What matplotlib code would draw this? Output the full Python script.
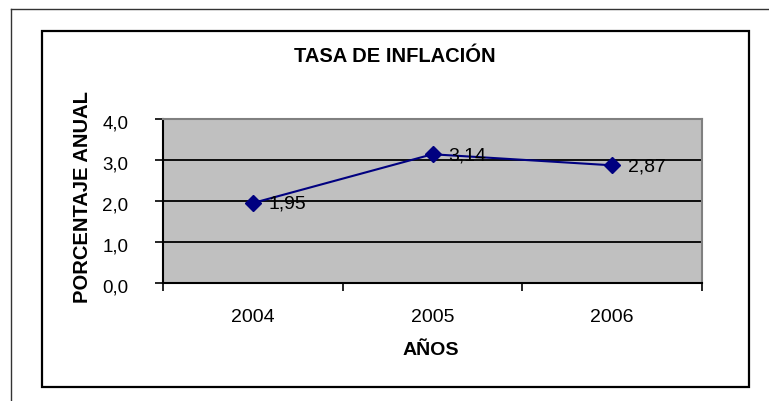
import matplotlib
matplotlib.use("Agg")
import matplotlib.pyplot as plt
from matplotlib.patches import Rectangle
from matplotlib.lines import Line2D
import matplotlib.transforms as mtransforms

years = ["2004", "2005", "2006"]
values = [1.95, 3.14, 2.87]
labels = ["1,95", "3,14", "2,87"]
yticks = [0.0, 1.0, 2.0, 3.0, 4.0]
ytick_labels = ["0,0", "1,0", "2,0", "3,0", "4,0"]

W, H = 769, 401
plt.rcParams['font.family'] = ['Liberation Sans', 'DejaVu Sans']
fig = plt.figure(figsize=(W / 100, H / 100), dpi=100)

def fx(px):
    return px / W

def fy(py):
    return 1 - py / H

# outer (cropped) frame lines
fig.add_artist(Line2D([fx(10.5), 1.0], [fy(8.5), fy(8.5)], color='#333333', lw=1.0))
fig.add_artist(Line2D([fx(10.5), fx(10.5)], [fy(8.5), 0.0], color='#333333', lw=1.0))
# chart frame
fig.add_artist(Rectangle((fx(42), fy(387)), fx(749) - fx(42), fy(31) - fy(387),
                         fill=False, edgecolor='black', lw=1.6))

ax = fig.add_axes([fx(163), fy(283), fx(702) - fx(163), fy(119) - fy(283)])
ax.set_facecolor('#C0C0C0')
n = len(years)
x = list(range(n))
ax.set_xlim(-0.5, n - 0.5)
ax.set_ylim(0, 4)
ax.set_yticks(yticks)
ax.set_yticklabels(ytick_labels)
ax.yaxis.grid(True, color='black', lw=1.3)
ax.set_axisbelow(True)
ax.set_xticks(x)
ax.set_xticklabels(years)
ax.set_xticks([i - 0.5 for i in range(n + 1)], minor=True)
ax.tick_params(axis='x', which='major', length=0, pad=18.5, labelsize=14)
ax.tick_params(axis='x', which='minor', length=6, width=1.2, direction='out', color='black')
ax.tick_params(axis='y', length=6, width=1.2, direction='out', pad=19, labelsize=13.5)
shift = mtransforms.ScaledTranslation(0, -3 / 100, fig.dpi_scale_trans)
for lab in ax.get_yticklabels():
    lab.set_transform(lab.get_transform() + shift)
for s in ['top', 'right']:
    ax.spines[s].set_color('#808080')
    ax.spines[s].set_linewidth(1.5)
for s in ['left', 'bottom']:
    ax.spines[s].set_color('black')
    ax.spines[s].set_linewidth(1.5)

ax.plot(x, values, color='#000080', lw=1.5, marker='D', markersize=8,
        markerfacecolor='#000080', markeredgecolor='#000080', zorder=3)
for xi, v, lab in zip(x, values, labels):
    ax.annotate(lab, (xi, v), xytext=(11.5, -1), textcoords='offset points',
                ha='left', va='center', fontsize=14, color='black', zorder=4)

fig.text(fx(395), fy(62), "TASA DE INFLACIÓN", ha='center', va='baseline',
         fontsize=14.5, fontweight='bold')
fig.text(fx(431), fy(355), "AÑOS", ha='center', va='baseline',
         fontsize=14, fontweight='bold')
fig.text(fx(83), fy(197.5), "PORCENTAJE ANUAL", ha='center', va='center',
         fontsize=14.5, fontweight='bold', rotation=90)

fig.savefig("out.png", dpi=100)
